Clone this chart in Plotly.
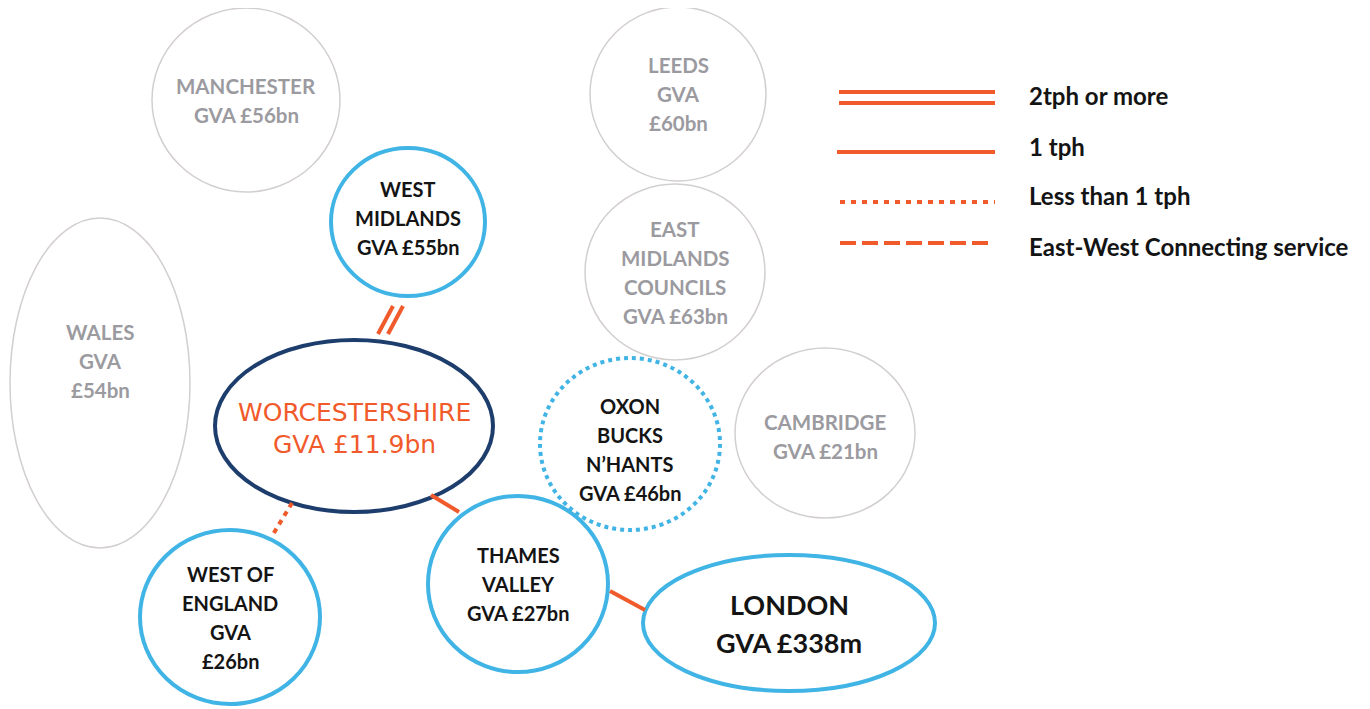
import plotly.graph_objects as go

# regions and their labels
regions = ["Manchester", "Leeds", "West Midlands", "East Midlands", "Wales",
           "Worcestershire", "Oxon", "Cambridge", "West of England",
           "Thames Valley", "London"]
labels = [
    ["MANCHESTER", "GVA £56bn"],
    ["LEEDS", "GVA", "£60bn"],
    ["WEST", "MIDLANDS", "GVA £55bn"],
    ["EAST", "MIDLANDS", "COUNCILS", "GVA £63bn"],
    ["WALES", "GVA", "£54bn"],
    ["WORCESTERSHIRE", "GVA £11.9bn"],
    ["OXON", "BUCKS", "N’HANTS", "GVA £46bn"],
    ["CAMBRIDGE", "GVA £21bn"],
    ["WEST OF", "ENGLAND", "GVA", "£26bn"],
    ["THAMES", "VALLEY", "GVA £27bn"],
    ["LONDON", "GVA £338m"],
]
kinds = ["grey", "grey", "blue", "grey", "grey", "home", "dotted", "grey",
         "blue", "blue", "london"]

# links between regions: (from, to, service)
links = [
    ("West Midlands", "Worcestershire", "2tph"),
    ("Worcestershire", "West of England", "lt1"),
    ("Worcestershire", "Thames Valley", "1tph"),
    ("Thames Valley", "London", "1tph"),
]
legend_items = ["2tph or more", "1 tph", "Less than 1 tph", "East-West Connecting service"]

# layout geometry (pixels): centre x, centre y, radius x, radius y
geom = {
    "Manchester": (246, 100, 94, 92),
    "Leeds": (678, 94, 88, 87),
    "West Midlands": (408, 222, 77, 74),
    "East Midlands": (675, 272, 90, 88),
    "Wales": (100, 383, 90, 165),
    "Worcestershire": (354, 426, 139, 86),
    "Oxon": (630, 444, 90, 86),
    "Cambridge": (825, 433, 90, 85),
    "West of England": (230, 617, 90, 87),
    "Thames Valley": (518, 584, 90, 88),
    "London": (789, 623, 146, 68),
}
# vertical nudge of the text block inside some shapes
text_dy = {"West Midlands": -4, "Oxon": 5, "Cambridge": 3, "Wales": -22,
           "Worcestershire": 2}
link_pts = {
    ("West Midlands", "Worcestershire"): (398, 306, 383, 334),
    ("Worcestershire", "West of England"): (292, 503, 272, 536),
    ("Worcestershire", "Thames Valley"): (431, 495, 459, 512),
    ("Thames Valley", "London"): (610, 591, 645, 610),
}

ORANGE = "#F15A2B"
BLUE = "#41B4E6"
NAVY = "#1D3D6C"
GREY_LINE = "#D3CFCF"
GREY_TEXT = "#9B9A9F"
BLACK = "#141414"
DOT = "5px,5px"

fig = go.Figure()
shapes = []
annotations = []

for name, lab, kind in zip(regions, labels, kinds):
    cx, cy, rx, ry = geom[name]
    if kind == "grey":
        line = dict(color=GREY_LINE, width=1.5)
        tcol, fam, size, sp = GREY_TEXT, "Lato", 20.5, 29
    elif kind == "blue":
        line = dict(color=BLUE, width=4)
        tcol, fam, size, sp = BLACK, "Lato", 20, 29
    elif kind == "dotted":
        line = dict(color=BLUE, width=4, dash="dot")
        tcol, fam, size, sp = BLACK, "Lato", 20, 29
    elif kind == "home":
        line = dict(color=NAVY, width=4)
        tcol, fam, size, sp = ORANGE, "DejaVu Sans", 25, 32
    else:
        line = dict(color=BLUE, width=4)
        tcol, fam, size, sp = BLACK, "Lato", 27, 38
    shapes.append(dict(type="circle", xref="x", yref="y",
                       x0=cx - rx, x1=cx + rx, y0=cy - ry, y1=cy + ry,
                       line=line, fillcolor="rgba(0,0,0,0)", layer="below"))
    n = len(lab)
    ty = cy + text_dy.get(name, 0)
    for i, t in enumerate(lab):
        y = ty + (i - (n - 1) / 2) * sp
        bold = kind != "home"
        annotations.append(dict(
            x=cx, y=y, xref="x", yref="y", showarrow=False,
            text=f"<b>{t}</b>" if bold else t,
            font=dict(family=fam, size=size, color=tcol),
            xanchor="center", yanchor="middle"))

for a, b, svc in links:
    x0, y0, x1, y1 = link_pts[(a, b)]
    if svc == "2tph":
        for off in (-5, 5):
            shapes.append(dict(type="line", xref="x", yref="y",
                               x0=x0 + off, y0=y0, x1=x1 + off, y1=y1,
                               line=dict(color=ORANGE, width=4)))
    elif svc == "1tph":
        shapes.append(dict(type="line", xref="x", yref="y",
                           x0=x0, y0=y0, x1=x1, y1=y1,
                           line=dict(color=ORANGE, width=4)))
    else:
        shapes.append(dict(type="line", xref="x", yref="y",
                           x0=x0, y0=y0, x1=x1, y1=y1,
                           line=dict(color=ORANGE, width=4, dash=DOT)))

# legend
leg_y = [95, 146, 195, 246]
shapes.append(dict(type="line", x0=839, x1=995, y0=92, y1=92, line=dict(color=ORANGE, width=4)))
shapes.append(dict(type="line", x0=839, x1=995, y0=103, y1=103, line=dict(color=ORANGE, width=4)))
shapes.append(dict(type="line", x0=837, x1=995, y0=152, y1=152, line=dict(color=ORANGE, width=4)))
shapes.append(dict(type="line", x0=840, x1=995, y0=202, y1=202, line=dict(color=ORANGE, width=4, dash="5px,6px")))
shapes.append(dict(type="line", x0=840, x1=988, y0=243, y1=243, line=dict(color=ORANGE, width=4, dash="16px,6px")))
for t, y in zip(legend_items, leg_y):
    annotations.append(dict(x=1027, y=y, xref="x", yref="y", showarrow=False,
                            text=f"<b>{t}</b>", xanchor="left", yanchor="middle",
                            font=dict(family="Lato", size=24, color=BLACK)))

# the page body has an 8px margin, so offset the ranges to keep pixel coords
fig.update_layout(
    width=1370, height=709,
    margin=dict(l=0, r=0, t=0, b=0),
    paper_bgcolor="white", plot_bgcolor="white",
    xaxis=dict(range=[8, 1378], visible=False, fixedrange=True),
    yaxis=dict(range=[717, 8], visible=False, fixedrange=True),
    shapes=shapes, annotations=annotations, showlegend=False,
)

fig.write_html("out.html")
